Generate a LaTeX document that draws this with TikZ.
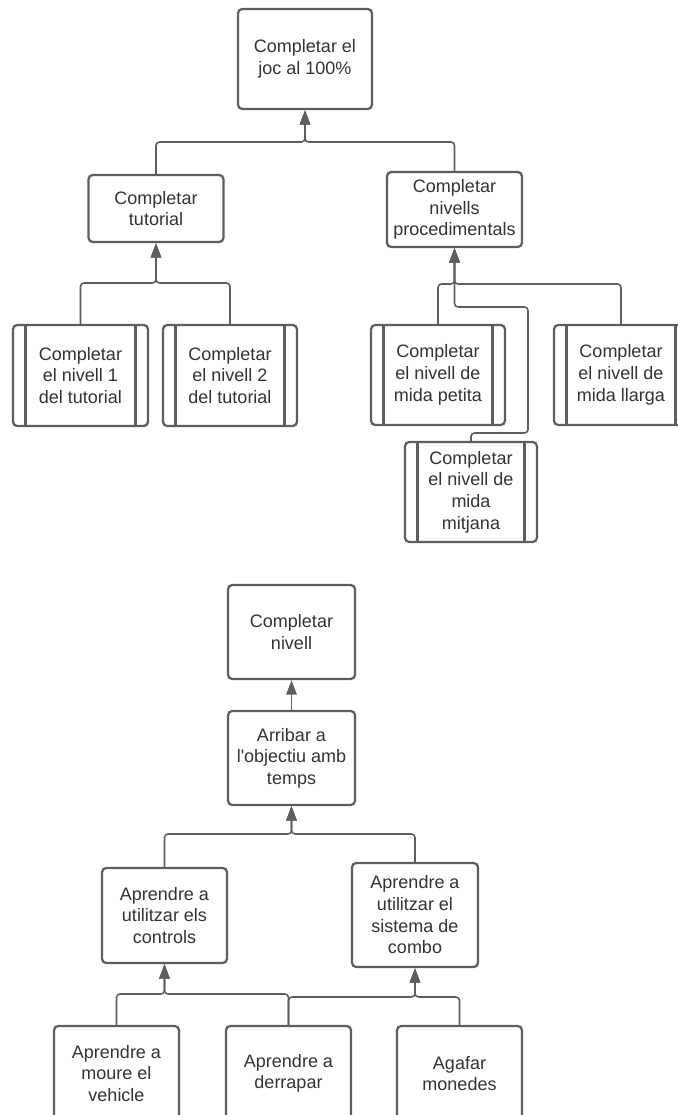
\documentclass[tikz,border=0pt]{standalone}
\usepackage{fontspec}
\setmainfont{Liberation Sans}
\usetikzlibrary{arrows.meta}

\definecolor{edgegray}{HTML}{5E5E5E}
\definecolor{inkgray}{HTML}{333333}

\begin{document}
\begin{tikzpicture}[
  x=0.025cm, y=-0.025cm,
  every node/.style={font=\fontsize{12.8}{15.4}\selectfont, text=inkgray},
  boxsize/.style 2 args={minimum width=#1*0.025cm, minimum height=#2*0.025cm},
  goal/.style={
    draw=edgegray,
    line width=1.6pt,
    rounded corners=3pt,
    fill=white,
    align=center,
    inner sep=1pt
  },
  side/.style={draw=edgegray, line width=1.6pt},
  link/.style={-{Triangle[length=0.36cm,width=0.26cm]},draw=edgegray,line width=1.1pt,rounded corners=2.5pt}
]
\useasboundingbox (0,0) rectangle (677,1115);
% first tree
\node[goal,boxsize={134}{100}] (top) at (305,59) {Completar el\\joc al 100\%};
\node[goal,boxsize={135}{67}] (tut) at (156,208.5) {Completar\\tutorial};
\node[goal,boxsize={135}{75}] (proc) at (454.5,209.5) {Completar\\nivells\\procedimentals};
\node[goal,boxsize={135}{101}] (t1) at (80.5,375.5) {Completar\\el nivell 1\\del tutorial};
\node[goal,boxsize={134}{101}] (t2) at (230,375.5) {Completar\\el nivell 2\\del tutorial};
\node[goal,boxsize={134}{100}] (pet) at (438,375) {Completar\\el nivell de\\mida petita};
\node[goal,boxsize={134}{100}] (lla) at (621,375) {Completar\\el nivell de\\mida llarga};
\node[goal,boxsize={132}{100}] (mit) at (471,492) {Completar\\el nivell de\\mida\\mitjana};
\foreach \n in {t1,t2,pet,lla,mit}{
  \draw[side] ([xshift=0.34cm]\n.north west) -- ([xshift=0.34cm]\n.south west);
  \draw[side] ([xshift=-0.34cm]\n.north east) -- ([xshift=-0.34cm]\n.south east);
}
\coordinate (jtop) at (305,142);
\coordinate (jtut) at (156,283);
\coordinate (jproc) at (454.5,284);
\coordinate (mA) at (528,433);
\coordinate (mB) at (528,307);
\draw[link] (tut.north) |- (jtop) -- (top.south);
\draw[link] (proc.north) |- (jtop) -- (top.south);
\draw[link] (t1.north) |- (jtut) -- (tut.south);
\draw[link] (t2.north) |- (jtut) -- (tut.south);
\draw[link] (pet.north) |- (jproc) -- (proc.south);
\draw[link] (lla.north) |- (jproc) -- (proc.south);
\draw[link] (mit.north) |- (mA) -- (mB) -| (proc.south);
% second tree
\node[goal,boxsize={127}{94}] (niv) at (291.5,632) {Completar\\nivell};
\node[goal,boxsize={127}{94}] (arr) at (291.5,758) {Arribar a\\l\textquotesingle objectiu amb\\temps};
\node[goal,boxsize={125}{95}] (ctl) at (164.5,915.5) {Aprendre a\\utilitzar els\\controls};
\node[goal,boxsize={126}{104}] (cmb) at (415,915) {Aprendre a\\utilitzar el\\sistema de\\combo};
\node[goal,boxsize={125}{95}] (mou) at (116.5,1073.5) {Aprendre a\\moure el\\vehicle};
\node[goal,boxsize={125}{95}] (der) at (288.5,1073.5) {Aprendre a\\derrapar};
\node[goal,boxsize={125}{95}] (mon) at (459.5,1073.5) {Agafar\\monedes};
\coordinate (jarr) at (291.5,834);
\coordinate (jctl) at (164.5,994);
\coordinate (jcmb) at (415,997);
\draw[link] (arr.north) -- (niv.south);
\draw[link] (ctl.north) |- (jarr) -- (arr.south);
\draw[link] (cmb.north) |- (jarr) -- (arr.south);
\draw[link] (mou.north) |- (jctl) -- (ctl.south);
\draw[link] (der.north) |- (jctl) -- (ctl.south);
\draw[link] (der.north) |- (jcmb) -- (cmb.south);
\draw[link] (mon.north) |- (jcmb) -- (cmb.south);
\end{tikzpicture}
\end{document}
